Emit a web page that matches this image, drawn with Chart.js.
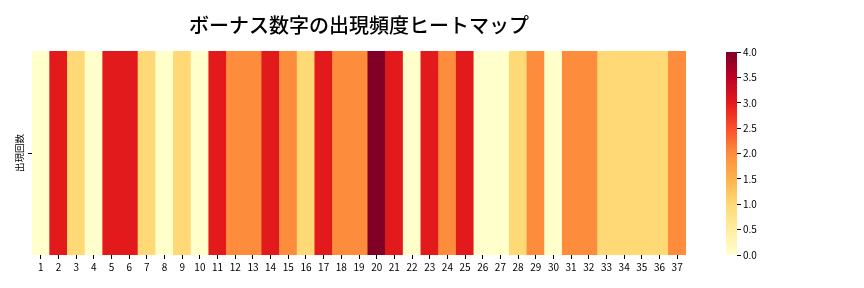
<!DOCTYPE html>
<html>
<head>
<meta charset="utf-8">
<script src="https://cdn.jsdelivr.net/npm/chart.js@4"></script>
<style>
  body { margin: 0; background: #fff; }
  #wrap { position: relative; width: 864px; height: 288px; }
  #heat { position: absolute; left: 0; top: 0; }
  #bar { position: absolute; left: 700px; top: 0; }
</style>
</head>
<body>
<div id="wrap">
  <canvas id="heat" width="864" height="288"></canvas>
  <canvas id="bar" width="100" height="288"></canvas>
</div>
<script>
// bonus numbers 1..37 and how often each appeared
const numbers = ['1','2','3','4','5','6','7','8','9','10','11','12','13','14','15','16','17','18','19','20',
                 '21','22','23','24','25','26','27','28','29','30','31','32','33','34','35','36','37'];
const counts = [0,3,1,0,3,3,1,0,1,0,3,2,2,3,2,1,3,2,2,4,3,0,3,2,3,0,0,1,2,0,2,2,1,1,1,1,2];
const rowLabel = '出現回数';
const cbTicks = [0,0.5,1,1.5,2,2.5,3,3.5,4];
const vmax = 4;

// YlOrRd
const stops = ['#ffffcc','#ffeda0','#fed976','#feb24c','#fd8d3c','#fc4e2a','#e31a1c','#bd0026','#800026'];

function hex(c) {
    return [parseInt(c.slice(1,3),16), parseInt(c.slice(3,5),16), parseInt(c.slice(5,7),16)];
}
function colorFor(v) {
    let t = Math.max(0, Math.min(1, v / vmax)) * (stops.length - 1);
    let i = Math.min(Math.floor(t), stops.length - 2);
    let f = t - i;
    let a = hex(stops[i]), b = hex(stops[i+1]);
    let c = a.map((x, k) => Math.round(x + (b[k] - x) * f));
    return 'rgb(' + c.join(',') + ')';
}

const font = "'Noto Sans CJK JP', 'Noto Sans', sans-serif";
Chart.defaults.font.family = font;
Chart.defaults.color = '#000';

new Chart(document.getElementById('heat'), {
    type: 'bar',
    data: {
        labels: numbers,
        datasets: [{
            data: counts.map(() => [0, 1]),
            backgroundColor: counts.map(colorFor),
            barPercentage: 1,
            categoryPercentage: 1,
            borderWidth: 0
        }]
    },
    options: {
        responsive: false,
        animation: false,
        layout: { padding: { left: 0, right: 178, top: 2, bottom: 0 } },
        plugins: {
            legend: { display: false },
            tooltip: { enabled: false },
            title: {
                display: true,
                text: 'ボーナス数字の出現頻度ヒートマップ',
                fullSize: false,
                font: { size: 20, weight: '500' },
                padding: { top: 11, bottom: 14 }
            }
        },
        scales: {
            x: {
                grid: { offset: false, drawOnChartArea: false, drawTicks: true, tickLength: 4, color: '#000' },
                border: { display: false },
                ticks: { font: { size: 10 }, maxRotation: 0, autoSkip: false, padding: 2 },
                afterFit: s => { s.height = 33; }
            },
            y: {
                min: 0, max: 1,
                afterBuildTicks: s => { s.ticks = [{ value: 0.5 }]; },
                ticks: { callback: () => '', padding: 0 },
                grid: { drawOnChartArea: false, drawTicks: true, tickLength: 4, color: '#000' },
                border: { display: false },
                title: { display: true, text: rowLabel, font: { size: 9.5 }, padding: { top: 14, bottom: 0 } },
                afterFit: s => { s.width = 32; }
            }
        }
    }
});

new Chart(document.getElementById('bar'), {
    type: 'bar',
    data: {
        labels: [''],
        datasets: [{
            data: [[0, vmax]],
            barPercentage: 1,
            categoryPercentage: 1,
            borderWidth: 0,
            backgroundColor: ctx => {
                const area = ctx.chart.chartArea;
                if (!area) return stops[0];
                const g = ctx.chart.ctx.createLinearGradient(0, area.bottom, 0, area.top);
                stops.forEach((c, i) => g.addColorStop(i / (stops.length - 1), c));
                return g;
            }
        }]
    },
    options: {
        responsive: false,
        animation: false,
        layout: { padding: { left: 26, right: 0, top: 52, bottom: 33 } },
        plugins: { legend: { display: false }, tooltip: { enabled: false } },
        scales: {
            x: { display: false },
            y: {
                position: 'right',
                min: 0, max: vmax,
                afterBuildTicks: s => { s.ticks = cbTicks.map(v => ({ value: v })); },
                ticks: { font: { size: 10 }, padding: 2, callback: v => v.toFixed(1) },
                grid: { drawOnChartArea: false, drawTicks: true, tickLength: 4, color: '#000' },
                border: { display: false },
                afterFit: s => { s.width = 63; }
            }
        }
    }
});
</script>
</body>
</html>
